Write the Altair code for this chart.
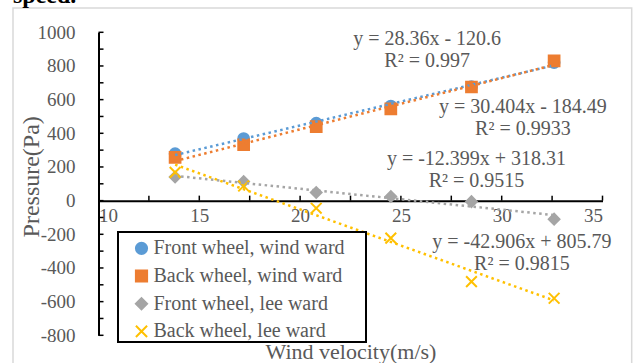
import altair as alt
import pandas as pd

# Wind velocity (m/s) of the six test runs
velocity = [13.8, 17.2, 20.8, 24.5, 28.5, 32.6]

series_names = [
    "Front wheel, wind ward",
    "Back wheel, wind ward",
    "Front wheel, lee ward",
    "Back wheel, lee ward",
]
# Measured pressure (Pa) for each series
front_wind = [279, 369, 460, 562, 677, 820]
back_wind = [257, 332, 440, 545, 675, 830]
front_lee = [140, 113, 48, 24, -6, -110]
back_lee = [168, 87, -45, -223, -481, -580]

# Linear trend fits: y = slope * x + intercept
slopes = [28.36, 30.404, -12.399, -42.906]
intercepts = [-120.6, -184.49, 318.31, 805.79]
equations = ["y = 28.36x - 120.6", "y = 30.404x - 184.49",
             "y = -12.399x + 318.31", "y = -42.906x + 805.79"]
r_squared = ["R² = 0.997", "R² = 0.9933", "R² = 0.9515", "R² = 0.9815"]
# Anchor of each equation label (first line), in data units
label_x = [26.3, 31.05, 28.75, 31.0]
label_y = [960, 556, 247, -244]

x_ticks = [10, 15, 20, 25, 30, 35]
y_ticks = [-800, -600, -400, -200, 0, 200, 400, 600, 800, 1000]
x_minor = [12.5, 15, 17.5, 20, 22.5, 25, 27.5, 30, 32.5, 35]
y_minor = list(range(-800, 1001, 100))

colors = ["#5B9BD5", "#ED7D31", "#A5A5A5", "#FFC000"]
fills = ["#5B9BD5", "#ED7D31", "#A5A5A5", "transparent"]
shapes = ["circle", "square", "diamond", "M-1,-1L1,1M-1,1L1,-1"]

FONT = "Liberation Serif"
GREY = "#595959"

# plot area geometry
W, H = 504, 303
PAD = {"left": 98.5, "top": 32.3, "right": 637 - 98.5 - W, "bottom": 363 - 32.3 - H}
Y0 = H * 1000 / 1800  # pixel row of pressure 0 inside the plot

# ---------- tables ----------
values = [front_wind, back_wind, front_lee, back_lee]
points = pd.DataFrame(
    [{"x": v, "y": p, "series": s}
     for s, ys in zip(series_names, values) for v, p in zip(velocity, ys)]
)
trend = pd.DataFrame(
    [{"x": v, "y": a * v + b, "fit": e}
     for e, a, b in zip(equations, slopes, intercepts)
     for v in (min(velocity), max(velocity))]
)
labels = pd.DataFrame(
    {"x": label_x, "y": label_y,
     "text": [[e, r] for e, r in zip(equations, r_squared)]}
)
ytick_df = pd.DataFrame({"y": y_minor})
xtick_df = pd.DataFrame({"x": x_minor, "y": [0] * len(x_minor)})

# ---------- shared scales / axes ----------
xscale = alt.Scale(domain=[10, 35], nice=False, zero=False)
yscale = alt.Scale(domain=[-800, 1000], nice=False, zero=False)
xaxis = alt.Axis(
    values=x_ticks, offset=-(H - Y0), grid=False, ticks=False, tickSize=0,
    domainColor="black", domainWidth=2, labelPadding=6,
    labelFont=FONT, labelFontSize=19, labelColor=GREY,
    labelExpr="'' + datum.value",
    title="Wind velocity(m/s)", titleFont=FONT, titleFontSize=22,
    titleFontWeight="normal", titleColor=GREY,
    titleY=151, titleBaseline="middle",
)
yaxis = alt.Axis(
    values=y_ticks, grid=False, ticks=False, tickSize=0,
    domainColor="black", domainWidth=2, labelPadding=23.5,
    labelFont=FONT, labelFontSize=19, labelColor=GREY,
    labelExpr="'' + datum.value",
    title="Pressure(Pa)", titleFont=FONT, titleFontSize=24,
    titleFontWeight="normal", titleColor=GREY,
    titleX=-66.8, titleY=144, titleAngle=270,
    titleAlign="center", titleBaseline="middle",
)
X = alt.X("x:Q", scale=xscale, axis=xaxis)
Y = alt.Y("y:Q", scale=yscale, axis=yaxis)

# ---------- layers ----------
frame = alt.Chart(pd.DataFrame({"k": [0]})).mark_rect(
    fill="white", fillOpacity=0, stroke="#d9d9d9", strokeWidth=1.5
).encode(
    x=alt.value(13 - PAD["left"]), x2=alt.value(631.7 - PAD["left"]),
    y=alt.value(8 - PAD["top"]), y2=alt.value(400),
)

caption = alt.Chart(pd.DataFrame({"t": ["speed."]})).mark_text(
    font=FONT, fontSize=24, fontWeight="bold", color="black",
    align="left", baseline="alphabetic",
).encode(text="t:N", x=alt.value(13 - PAD["left"]), y=alt.value(3 - PAD["top"]))

yticks = alt.Chart(ytick_df).mark_rule(color="black", strokeWidth=1.5).encode(
    y=Y, x=alt.value(0), x2=alt.value(5)
)
xticks = alt.Chart(xtick_df).mark_rule(color="black", strokeWidth=1.5, y2Offset=-5).encode(
    x=X, y=Y, y2="y:Q"
)

legend = alt.Legend(
    title=None, orient="none",
    legendX=131.5 - PAD["left"], legendY=238.3 - PAD["top"],
    padding=0, labelFont=FONT, labelFontSize=20, labelColor=GREY,
    labelLimit=400, labelOffset=2, rowPadding=7.7, symbolSize=125,
    symbolStrokeWidth=2, symbolOpacity=1, zindex=5,
)

marks = alt.Chart(points).mark_point(
    size=115, strokeWidth=2, opacity=1, fillOpacity=1
).encode(
    x=X, y=Y,
    fill=alt.Fill("series:N", scale=alt.Scale(domain=series_names, range=fills), legend=legend),
    stroke=alt.Stroke("series:N", scale=alt.Scale(domain=series_names, range=colors), legend=legend),
    shape=alt.Shape("series:N", scale=alt.Scale(domain=series_names, range=shapes), legend=legend),
)

lines = alt.Chart(trend).mark_line(
    strokeDash=[2.5, 3.5], strokeWidth=2.5
).encode(
    x=X, y=Y, detail="fit:N",
    color=alt.Color("fit:N", scale=alt.Scale(domain=equations, range=colors), legend=None),
)

eq_text = alt.Chart(labels).mark_text(
    font=FONT, fontSize=20, color=GREY, align="center", baseline="middle", lineHeight=22
).encode(x=X, y=Y, text="text")

legend_box = alt.Chart(pd.DataFrame({"k": [0]})).mark_rect(
    fill="white", stroke="black", strokeWidth=2
).encode(
    x=alt.value(118 - PAD["left"]), x2=alt.value(366 - PAD["left"]),
    y=alt.value(232 - PAD["top"]), y2=alt.value(342 - PAD["top"]),
)

chart = alt.layer(
    frame, caption, yticks, xticks, marks, lines, eq_text, legend_box
).properties(
    width=W, height=H, padding=PAD, autosize=alt.AutoSizeParams(type="none")
).configure(font=FONT).configure_view(stroke=None).configure_axis(
    labelFont=FONT, titleFont=FONT
).configure_legend(labelFont=FONT, titleFont=FONT)

chart.save("out.html", embed_options={"renderer": "svg", "actions": False})
